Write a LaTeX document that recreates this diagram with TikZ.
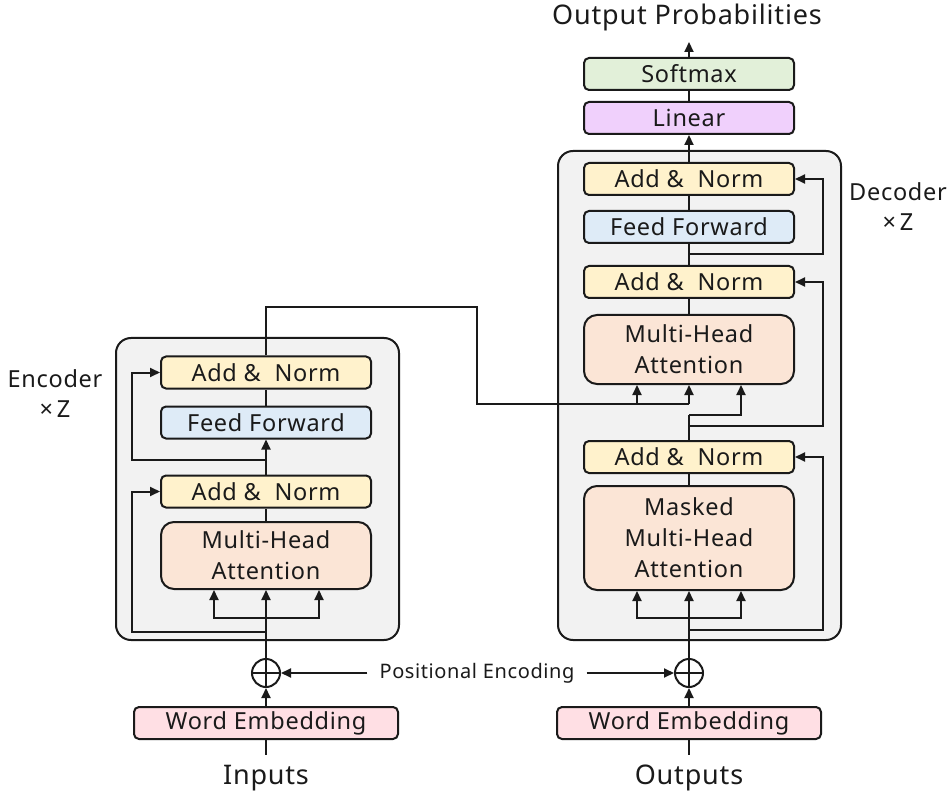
\documentclass[tikz,border=0pt]{standalone}
\usepackage{fontspec}
\setmainfont{Noto Sans}[LetterSpace=3]
\usetikzlibrary{arrows.meta,calc}
\definecolor{ink}{HTML}{1A1A1A}
\definecolor{addnorm}{HTML}{FFF2CC}
\definecolor{ffwd}{HTML}{DEEBF7}
\definecolor{attn}{HTML}{FBE5D6}
\definecolor{smax}{HTML}{E2F0D9}
\definecolor{lin}{HTML}{F0D0FC}
\definecolor{emb}{HTML}{FFDFE4}
\definecolor{stack}{HTML}{F2F2F2}
\tikzset{
  x=1pt, y=-1pt,
  wire/.style={line width=2pt, draw=ink},
  arr/.style={wire, -{Triangle[length=10pt,width=9pt]}},
  blk/.style={draw=ink, line width=2pt, rounded corners=5pt, minimum width=210pt,
    minimum height=32pt, inner sep=0pt, text=ink, font=\fontsize{23.5}{31}\selectfont, align=center},
  bigblk/.style={blk, rounded corners=13pt},
  stackbox/.style={draw=ink, line width=2pt, rounded corners=15pt, fill=stack, inner sep=0pt},
  outlabel/.style={text=ink, font=\fontsize{27}{30}\selectfont, inner sep=0pt},
  sidelabel/.style={text=ink, font=\fontsize{23.5}{30}\selectfont, align=center, inner sep=0pt},
  plus/.style={draw=ink, line width=2pt, circle, minimum size=28pt, inner sep=0pt,
    path picture={\draw[ink, line width=2pt] (path picture bounding box.north) -- (path picture bounding box.south)
      (path picture bounding box.west) -- (path picture bounding box.east);}},
}
\begin{document}
\begin{tikzpicture}
\useasboundingbox (0,0) rectangle (950,799);

% ---------- stacks ----------
\node[stackbox, minimum width=283pt, minimum height=302pt] (encbox) at (257.5,489) {};
\node[stackbox, minimum width=283pt, minimum height=489pt] (decbox) at (699.5,395.5) {};

% ---------- encoder ----------
\node[blk, fill=addnorm] (eAN2) at (266,372.5) {Add \&\ \ Norm};
\node[blk, fill=ffwd]    (eFF)  at (266,422.5) {Feed Forward};
\node[blk, fill=addnorm] (eAN1) at (266,491.5) {Add \&\ \ Norm};
\node[bigblk, fill=attn, minimum height=67pt] (eMHA) at (266,555.5) {Multi-Head\\Attention};

% ---------- decoder ----------
\node[blk, fill=smax]    (soft) at (689,74)  {Softmax};
\node[blk, fill=lin]     (lin)  at (689,118) {Linear};
\node[blk, fill=addnorm] (dAN3) at (689,179) {Add \&\ \ Norm};
\node[blk, fill=ffwd]    (dFF)  at (689,227) {Feed Forward};
\node[blk, fill=addnorm] (dAN2) at (689,282) {Add \&\ \ Norm};
\node[bigblk, fill=attn, minimum height=69pt] (dMHA) at (689,349.5) {Multi-Head\\Attention};
\node[blk, fill=addnorm] (dAN1) at (689,457) {Add \&\ \ Norm};
\node[bigblk, fill=attn, minimum height=104pt] (dMMHA) at (689,538) {Masked\\Multi-Head\\Attention};

% ---------- inputs / embeddings ----------
\node[plus] (opL) at (266,673) {};
\node[plus] (opR) at (689,673) {};
\node[blk, fill=emb, minimum width=264pt] (weL) at (266,723) {Word Embedding};
\node[blk, fill=emb, minimum width=264pt] (weR) at (689,723) {Word Embedding};
\node[outlabel, anchor=north] (inp)  at (266,765) {\vphantom{Ip}Inputs};
\node[outlabel, anchor=north] (outp) at (689,765) {\vphantom{Ip}Outputs};
\node[outlabel] (prob) at (687,17) {Output Probabilities};
\node[text=ink, font=\fontsize{20}{24}\selectfont, inner sep=12pt] (pe) at (477,673) {Positional Encoding};
\node[sidelabel] (enclab) at (55,394) {Encoder\\×\,Z};
\node[sidelabel] (declab) at (898,207) {Decoder\\×\,Z};

% ---------- helper points ----------
\coordinate (eq)  at (266,618);
\coordinate (er1) at (266,632);
\coordinate (er2) at (266,460);
\coordinate (eo)  at (266,307);
\coordinate (eoR) at (477,307);
\coordinate (eoD) at (477,404);
\coordinate (kv)  at (689,404);
\coordinate (kvL) at (637,404);
\coordinate (dq)  at (689,618);
\coordinate (dr1) at (689,630);
\coordinate (dqq) at (689,415);
\coordinate (dr2) at (689,426);
\coordinate (dr3) at (689,254);
\coordinate (top) at (689,42);

% ---------- encoder wiring ----------
\draw[wire] (weL.south) -- ([yshift=10pt]inp.north);
\draw[arr] (weL.north) -- (opL.south);
\draw[arr] (opL.north) -- (eMHA.south);
\draw[arr] (eq) -| ([xshift=-52pt]eMHA.south);
\draw[arr] (eq) -| ([xshift=53pt]eMHA.south);
\draw[arr] (er1) -- (132,632) |- (eAN1.west);
\draw[wire] (eMHA.north) -- (eAN1.south);
\draw[arr] (eAN1.north) -- (eFF.south);
\draw[arr] (er2) -- (132,460) |- (eAN2.west);
\draw[wire] (eFF.north) -- (eAN2.south);
\draw[wire] (eAN2.north) -- (eo) -- (eoR) -- (eoD) -- (kv);
\draw[arr] (kv) -- (dMHA.south);
\draw[arr] (kvL) -- ([xshift=-52pt]dMHA.south);

% ---------- decoder wiring ----------
\draw[wire] (weR.south) -- ([yshift=10pt]outp.north);
\draw[arr] (weR.north) -- (opR.south);
\draw[arr] (opR.north) -- (dMMHA.south);
\draw[arr] (dq) -| ([xshift=-52pt]dMMHA.south);
\draw[arr] (dq) -| ([xshift=52pt]dMMHA.south);
\draw[arr] (dr1) -- (823,630) |- (dAN1.east);
\draw[wire] (dMMHA.north) -- (dAN1.south);
\draw[wire] (dAN1.north) -- (dqq);
\draw[arr] (dqq) -| ([xshift=52pt]dMHA.south);
\draw[arr] (dr2) -- (823,426) |- (dAN2.east);
\draw[wire] (dMHA.north) -- (dAN2.south);
\draw[wire] (dAN2.north) -- (dFF.south);
\draw[arr] (dr3) -- (823,254) |- (dAN3.east);
\draw[wire] (dFF.north) -- (dAN3.south);
\draw[arr] (dAN3.north) -- (lin.south);
\draw[wire] (lin.north) -- (soft.south);
\draw[arr] (soft.north) -- (top);

% ---------- positional encoding ----------
\draw[arr] (pe.west) -- (opL.east);
\draw[arr] (pe.east) -- (opR.west);
\end{tikzpicture}
\end{document}
